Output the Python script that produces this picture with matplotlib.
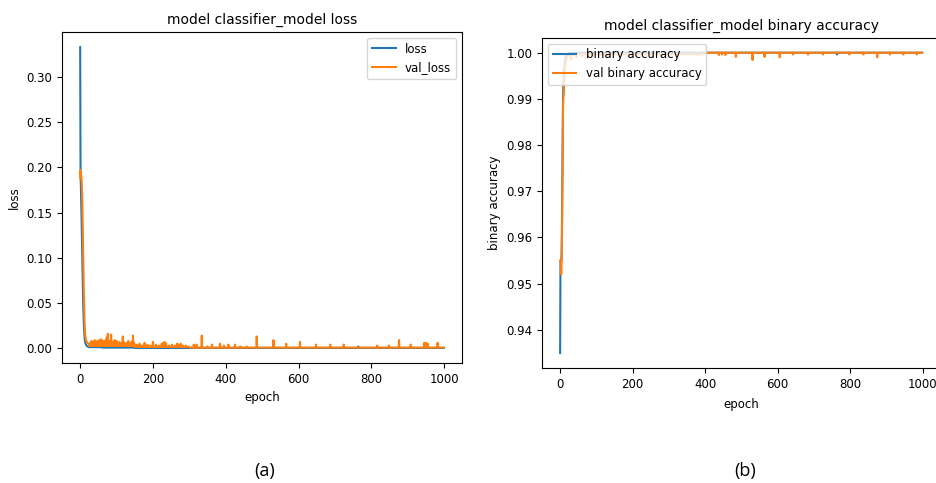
import numpy as np
import matplotlib
matplotlib.use("Agg")
import matplotlib.pyplot as plt

# ---------------- data ----------------
n_epochs = 1000

loss_head = [0.333, 0.196, 0.178, 0.160, 0.140, 0.118, 0.095, 0.073, 0.054, 0.038,
             0.026, 0.018, 0.012, 0.0085, 0.0062, 0.0048, 0.0039, 0.0032, 0.0027, 0.0023,
             0.0020, 0.0018, 0.0016, 0.0014, 0.0013]
loss_levels = [(25, 60, 0.0012), (60, 150, 0.0007), (150, 1000, 0.0003)]
loss_spikes = {764: 0.002}

val_loss_head = [0.188, 0.197, 0.190, 0.191, 0.186, 0.176, 0.160, 0.138, 0.112, 0.086,
                 0.062, 0.043, 0.029, 0.020, 0.014, 0.011, 0.0090, 0.0078, 0.0070, 0.0064,
                 0.0060, 0.0056, 0.0053, 0.0050, 0.0048]
val_loss_levels = [(25, 150, 0.0025), (150, 300, 0.0014), (300, 1000, 0.0007)]
val_loss_spikes = {
    28: 0.006, 31: 0.008, 34: 0.005, 37: 0.007, 40: 0.009, 43: 0.006, 46: 0.008,
    49: 0.005, 52: 0.009, 55: 0.007, 58: 0.010, 61: 0.006, 64: 0.008, 67: 0.005,
    70: 0.009, 73: 0.012, 76: 0.016, 79: 0.008, 82: 0.006, 85: 0.015, 88: 0.007,
    91: 0.005, 94: 0.009, 97: 0.006, 100: 0.008, 104: 0.005, 108: 0.007, 112: 0.006,
    117: 0.013, 120: 0.007, 124: 0.005, 128: 0.006, 132: 0.008, 136: 0.005,
    140: 0.007, 145: 0.014, 148: 0.006, 155: 0.004, 163: 0.005, 170: 0.003,
    177: 0.006, 185: 0.004, 193: 0.003, 200: 0.007, 208: 0.004, 216: 0.003,
    224: 0.005, 228: 0.006, 232: 0.007, 236: 0.005, 244: 0.003, 252: 0.004,
    260: 0.003, 266: 0.005, 270: 0.004, 276: 0.005, 282: 0.003, 290: 0.003,
    298: 0.002, 312: 0.004, 320: 0.004, 334: 0.014, 350: 0.002, 362: 0.004,
    384: 0.005, 395: 0.003, 407: 0.004, 425: 0.004, 440: 0.002, 458: 0.002,
    485: 0.013, 531: 0.009, 566: 0.005, 604: 0.007, 648: 0.004, 687: 0.004,
    724: 0.004, 816: 0.003, 848: 0.003, 876: 0.009, 908: 0.004, 945: 0.006,
    950: 0.006, 955: 0.005, 982: 0.006,
}

acc_head = [0.935, 0.9545, 0.955, 0.955, 0.956, 0.962, 0.972, 0.983, 0.990, 0.993,
            0.995, 0.996, 0.997, 0.998, 0.9985, 0.999, 0.9992, 0.9994, 0.9995, 0.9996,
            0.9997, 0.9998, 0.9998, 0.9999, 0.9999]
acc_levels = [(25, 1000, 1.0)]
acc_spikes = {764: 0.9996}

val_acc_head = [0.955, 0.955, 0.9545, 0.952, 0.9545, 0.958, 0.968, 0.980, 0.988, 0.9905,
                0.991, 0.993, 0.995, 0.996, 0.997, 0.9975, 0.998, 0.9985, 0.9988, 0.999,
                0.9992, 0.9993, 0.9994, 0.9995, 0.9995]
val_acc_levels = [(25, 400, 0.9997), (400, 1000, 1.0)]
val_acc_spikes = {
    30: 0.9985, 45: 0.999, 60: 0.9992, 75: 0.9988, 90: 0.9993, 110: 0.9995,
    130: 0.9992, 160: 0.9995, 200: 0.9994, 240: 0.9996, 280: 0.9995, 330: 0.9994,
    380: 0.9995, 438: 0.9995, 447: 0.9996, 456: 0.9995, 485: 0.9991, 531: 0.9984,
    564: 0.9991, 606: 0.999, 643: 0.9996, 684: 0.9996, 725: 0.9996, 798: 0.9996,
    837: 0.9996, 875: 0.999, 910: 0.9996, 947: 0.9996, 984: 0.9996,
}


def build(head, levels, spikes):
    y = np.empty(n_epochs)
    y[:len(head)] = head
    for a, b, v in levels:
        y[a:b] = v
    for k, v in spikes.items():
        y[k] = v
    return y


epochs = np.arange(n_epochs)
loss = build(loss_head, loss_levels, loss_spikes)
val_loss = build(val_loss_head, val_loss_levels, val_loss_spikes)
acc = build(acc_head, acc_levels, acc_spikes)
val_acc = build(val_acc_head, val_acc_levels, val_acc_spikes)

# ---------------- figure ----------------
plt.rcParams['font.family'] = ['DejaVu Sans']
W, H = 937, 483
fig = plt.figure(figsize=(W / 100, H / 100), dpi=100)

tick_fs = 8.5
lab_fs = 8.5
title_fs = 10

ax1 = fig.add_axes([62 / W, 1 - 363 / H, 400 / W, 331 / H])
ax1.plot(epochs, loss, label='loss')
ax1.plot(epochs, val_loss, label='val_loss')
ax1.set_title('model classifier_model loss', fontsize=title_fs)
ax1.set_xlabel('epoch', fontsize=lab_fs)
ax1.set_ylabel('loss', fontsize=lab_fs)
ax1.tick_params(labelsize=tick_fs)
ax1.legend(loc='upper right', fontsize=lab_fs)

# right panel is cut off at the right edge of the picture
px_per_epoch = 362.4 / 1000
x_lo, x_hi = -50, 1110
ax2 = fig.add_axes([542 / W, 1 - 368 / H, (x_hi - x_lo) * px_per_epoch / W, 330.3 / H])
ax2.plot(epochs, acc, label='binary accuracy')
ax2.plot(epochs, val_acc, label='val binary accuracy')
ax2.set_xlim(x_lo, x_hi)
ax2.set_xticks([0, 200, 400, 600, 800, 1000])
ax2.set_title('model classifier_model binary accuracy', fontsize=title_fs,
              x=(1049 + 50) / 2 / (x_hi - x_lo))
ax2.set_xlabel('epoch', fontsize=lab_fs)
ax2.xaxis.set_label_coords((1049 + 50) / 2 / (x_hi - x_lo), -0.09)
ax2.set_ylabel('binary accuracy', fontsize=lab_fs)
ax2.tick_params(labelsize=tick_fs)
ax2.legend(loc='upper left', fontsize=lab_fs)

fig.text(265 / W, 1 - 471 / H, '(a)', ha='center', va='center', fontsize=13,
         family=['Open Sans', 'DejaVu Sans'])
fig.text(745 / W, 1 - 471 / H, '(b)', ha='center', va='center', fontsize=13,
         family=['Open Sans', 'DejaVu Sans'])

fig.savefig('out.png', dpi=100)
